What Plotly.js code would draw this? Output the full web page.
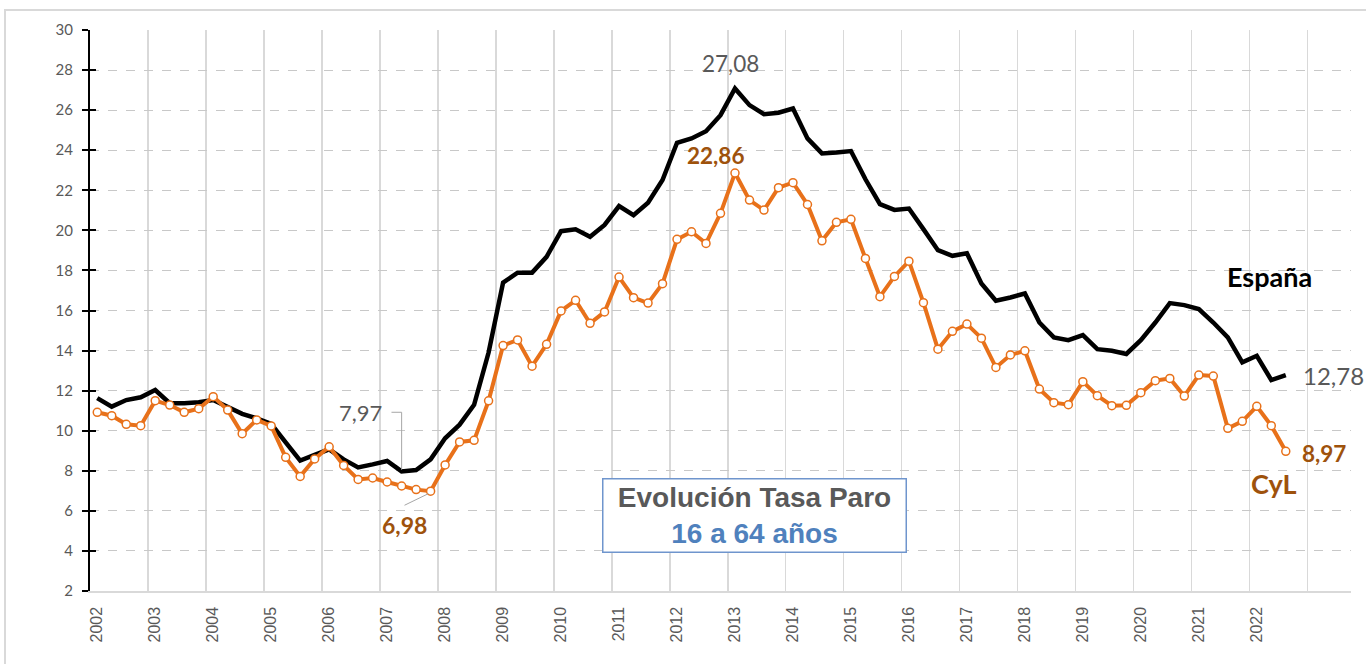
<!DOCTYPE html>
<html>
<head>
<meta charset="utf-8">
<script src="https://cdn.plot.ly/plotly-3.0.1.min.js"></script>
<style>html,body{margin:0;padding:0;background:#fff;}#chart{width:1366px;height:664px;}</style>
</head>
<body>
<div id="chart"></div>
<script>
// Quarterly categories 2002T1 .. 2022T3
const years = [];
for (let y = 2002; y <= 2022; y++) years.push(String(y));
const categories = [];
years.forEach(y => ['T1','T2','T3','T4'].forEach(q => categories.push(y + q)));
categories.length = 83;

const tickLabels = years;

const espana = [
  11.63, 11.20, 11.53, 11.67, 12.03, 11.37, 11.37, 11.42, 11.53, 11.20, 10.84, 10.62, 10.34, 9.42, 8.51, 8.79,
  9.07, 8.57, 8.17, 8.32, 8.49, 7.97, 8.04, 8.57, 9.62, 10.30, 11.29,
  13.90, 17.39, 17.89, 17.89, 18.68, 19.96, 20.05, 19.68, 20.27, 21.21, 20.76, 21.38, 22.51, 24.37, 24.59,
  24.95, 25.75, 27.08, 26.25, 25.80, 25.87, 26.08, 24.59, 23.84, 23.89, 23.96,
  22.55, 21.31, 21.02, 21.09, 20.06, 19.01, 18.73, 18.86, 17.35, 16.49, 16.65, 16.85, 15.40, 14.66, 14.52,
  14.77, 14.07, 13.99, 13.83, 14.52, 15.40, 16.37, 16.27, 16.07, 15.40, 14.66, 13.41, 13.74, 12.53, 12.78
];

const cyl = [
  10.92, 10.75, 10.32, 10.25, 11.50, 11.28, 10.92, 11.10, 11.70, 11.03, 9.85, 10.54, 10.24, 8.67, 7.72, 8.59,
  9.20, 8.27, 7.57, 7.64, 7.44, 7.24, 7.06, 6.98, 8.29, 9.44, 9.52,
  11.49, 14.25, 14.53, 13.22, 14.31, 15.98, 16.51, 15.36, 15.93, 17.67, 16.64, 16.37, 17.34, 19.55, 19.93,
  19.35, 20.85, 22.86, 21.51, 21.01, 22.13, 22.38, 21.29, 19.48, 20.40, 20.55,
  18.60, 16.69, 17.70, 18.46, 16.39, 14.07, 14.96, 15.32, 14.62, 13.16, 13.78, 13.99, 12.08, 11.40, 11.30,
  12.45, 11.75, 11.25, 11.27, 11.90, 12.50, 12.61, 11.73, 12.78, 12.73, 10.12, 10.47, 11.22, 10.25, 8.97
];

const xIdx = categories.map((_, i) => i);
const tickVals = tickLabels.map((_, k) => k * 4);
const yTicks = [2, 4, 6, 8, 10, 12, 14, 16, 18, 20, 22, 24, 26, 28, 30];

const GRAY = '#595959';
const BROWN = '#9E520C';
const ORANGE = '#E8711A';
const CAL = 'Lato, "Open Sans", sans-serif';

const iMaxE = espana.indexOf(Math.max(...espana));
const iMaxC = cyl.indexOf(Math.max(...cyl));
const iMinE = espana.slice(0, 40).indexOf(Math.min(...espana.slice(0, 40)));
const iMinC = cyl.slice(0, 40).indexOf(Math.min(...cyl.slice(0, 40)));
const iLast = categories.length - 1;
const fmt = v => v.toFixed(2).replace('.', ',');

const traces = [
  {
    x: xIdx, y: espana, type: 'scatter', mode: 'lines', name: 'España',
    line: {color: '#000000', width: 4.5}, cliponaxis: false
  },
  {
    x: xIdx, y: cyl, type: 'scatter', mode: 'lines+markers', name: 'CyL',
    line: {color: ORANGE, width: 4},
    marker: {size: 8, color: '#ffffff', line: {color: ORANGE, width: 1.5}}, cliponaxis: false
  },
  // invisible trace carrying the inner half of the y tick marks
  {x: [0], y: [2], yaxis: 'y2', type: 'scatter', mode: 'markers', marker: {opacity: 0}, hoverinfo: 'skip'}
];

const layout = {
  width: 1366, height: 664,
  margin: {l: 90, r: 15, t: 30, b: 73},
  paper_bgcolor: '#ffffff', plot_bgcolor: '#ffffff',
  showlegend: false,
  xaxis: {
    range: [-0.5, 86.5], tickvals: tickVals, ticktext: tickLabels, tickangle: -90,
    showgrid: false, zeroline: false, ticks: '',
    showline: true, linecolor: '#d9d9d9', linewidth: 1.5,
    tickfont: {family: '"Liberation Sans", Arial, sans-serif', size: 16, color: GRAY},
    ticklabelstandoff: 8,
    minor: {tick0: -0.5, dtick: 4, showgrid: true, gridcolor: '#d9d9d9', gridwidth: 1.5, ticks: ''}
  },
  yaxis: {
    range: [2, 30], tickvals: yTicks,
    showgrid: true, gridcolor: '#c8c8c8', gridwidth: 1, griddash: 'dash', zeroline: false,
    showline: true, linecolor: '#000000', linewidth: 2,
    ticks: 'outside', ticklen: 6, tickwidth: 2, tickcolor: '#000000',
    tickfont: {family: CAL, size: 15, color: GRAY},
    ticklabelstandoff: 6
  },
  yaxis2: {
    overlaying: 'y', side: 'left', range: [2, 30], tickvals: yTicks,
    showgrid: false, zeroline: false, showline: false, showticklabels: false,
    ticks: 'inside', ticklen: 6, tickwidth: 2, tickcolor: '#000000'
  },
  shapes: [
    {type: 'rect', xref: 'paper', yref: 'paper', x0: -0.0674, x1: 1.05, y0: -0.3, y1: 1.0357,
     line: {color: '#d9d9d9', width: 2}, layer: 'below'},
    // leader 7,97
    {type: 'path', xref: 'x', yref: 'y',
     path: `M ${iMinE - 0.7} ${espana[iMinE] + 2.95} L ${iMinE} ${espana[iMinE] + 2.95} L ${iMinE} ${espana[iMinE] + 0.08}`,
     line: {color: '#a6a6a6', width: 1}},
    // leader 6,98
    {type: 'line', xref: 'x', yref: 'y',
     x0: iMinC - 1.8, y0: cyl[iMinC] - 0.7, x1: iMinC - 0.15, y1: cyl[iMinC] - 0.12,
     line: {color: '#a6a6a6', width: 1}}
  ],
  annotations: [
    {x: iMaxE, y: espana[iMaxE], text: fmt(espana[iMaxE]), showarrow: false, xshift: -4, yshift: 25,
     font: {family: CAL, size: 22.5, color: GRAY}},
    {x: iMaxC, y: cyl[iMaxC], text: '<b>' + fmt(cyl[iMaxC]) + '</b>', showarrow: false, xshift: -19, yshift: 18,
     font: {family: CAL, size: 22.5, color: BROWN}},
    {x: iMinE, y: espana[iMinE], text: fmt(espana[iMinE]), showarrow: false, xanchor: 'right', xshift: -18, yshift: 59,
     font: {family: CAL, size: 22, color: GRAY}},
    {x: iMinC, y: cyl[iMinC], text: '<b>' + fmt(cyl[iMinC]) + '</b>', showarrow: false, xshift: -26, yshift: -34,
     font: {family: CAL, size: 23, color: BROWN}},
    {x: iLast, y: espana[iLast], text: fmt(espana[iLast]), showarrow: false, xanchor: 'left', xshift: 15, yshift: 0,
     font: {family: CAL, size: 24, color: GRAY}},
    {x: iLast, y: cyl[iLast], text: '<b>' + fmt(cyl[iLast]) + '</b>', showarrow: false, xanchor: 'left', xshift: 14, yshift: -2,
     font: {family: CAL, size: 22.5, color: BROWN}},
    {x: iLast, y: cyl[iLast], text: '<b>CyL</b>', showarrow: false, xshift: -12, yshift: -32,
     font: {family: CAL, size: 27, color: BROWN}},
    {x: iLast - 1.1, y: 17.7, text: '<b>España</b>', showarrow: false,
     font: {family: CAL, size: 27, color: '#000000'}},
    {xref: 'paper', yref: 'paper', x: 0.5268, y: 0.1343, xanchor: 'center', yanchor: 'middle',
     text: 'Evolución Tasa Paro<br><span style="color:#4F81BD">16 a 64 años</span>',
     showarrow: false, width: 300, height: 70, borderpad: 1,
     bordercolor: '#6F95CD', borderwidth: 1.5, bgcolor: '#ffffff',
     font: {family: '"Liberation Sans", Arial, sans-serif', size: 28, color: GRAY, weight: 'bold'}}
  ]
};

Plotly.newPlot('chart', traces, layout, {staticPlot: true, displayModeBar: false});
</script>
</body>
</html>
